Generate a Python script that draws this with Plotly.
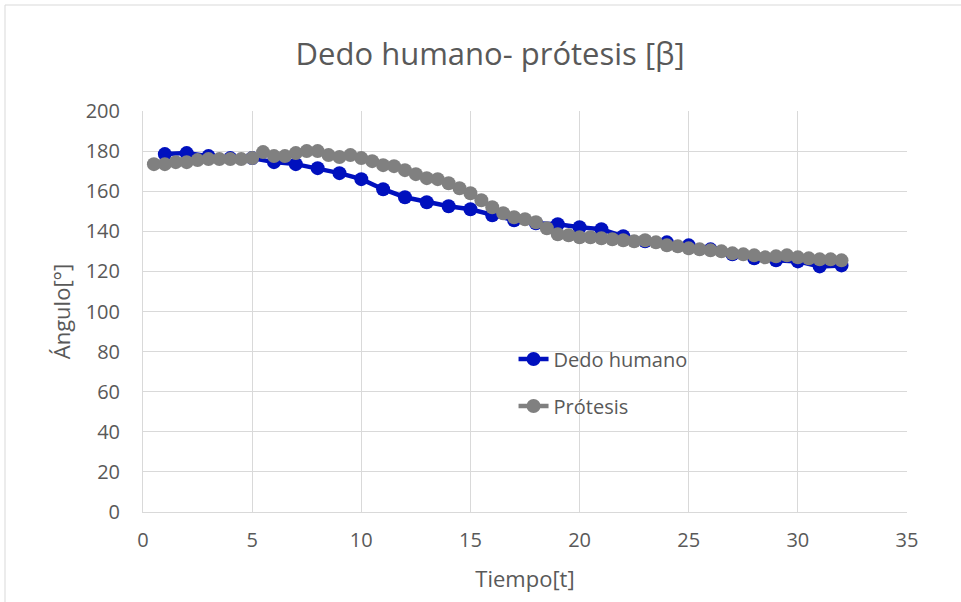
import plotly.graph_objects as go

# Time axis and angle readings for each finger
tiempo_humano = [float(t) for t in range(1, 33)]
angulo_humano = [
    178.5, 179, 177.5, 176.5, 176.5, 174.5, 173.5, 171.5, 169, 166,
    161, 157, 154.5, 152.5, 151, 148, 145.5, 144, 143.5, 142,
    141, 137.5, 135, 134.5, 133, 131, 128.5, 126.5, 125.5, 125,
    122.5, 123,
]

tiempo_protesis = [0.5 * k for k in range(1, 65)]
angulo_protesis = [
    173.5, 173.5, 174.5, 174.5, 175.5, 176, 176, 176, 176, 176.5,
    179.5, 177.5, 177.5, 179, 180, 180, 178, 177, 178, 176.5,
    175, 173, 172.5, 170.5, 168.5, 166.5, 166, 164, 161.5, 159,
    155.5, 152, 149, 147, 146, 144.5, 141.5, 138.5, 138, 137,
    137, 136.5, 136, 135.5, 135, 135.5, 134.5, 133, 132.5, 131.5,
    131, 130.5, 130, 129, 128.5, 128, 127, 127.5, 128, 127,
    126.5, 126, 126, 125.5,
]

x_ticks = [0, 5, 10, 15, 20, 25, 30, 35]
y_ticks = [0, 20, 40, 60, 80, 100, 120, 140, 160, 180, 200]

AZUL = "#0010BE"
GRIS = "#808080"
TEXTO = "#595959"
REJILLA = "#D9D9D9"
FUENTE = "Open Sans"

fig = go.Figure()
fig.add_trace(go.Scatter(
    x=tiempo_humano, y=angulo_humano, name="Dedo humano",
    mode="lines+markers", legendgroup="a",
    line=dict(color=AZUL, width=4.5),
    marker=dict(color=AZUL, size=14),
))
fig.add_trace(go.Scatter(
    x=tiempo_protesis, y=angulo_protesis, name="Prótesis",
    mode="lines+markers", legendgroup="b",
    line=dict(color=GRIS, width=4.5),
    marker=dict(color=GRIS, size=14),
))

fig.update_layout(
    width=961, height=602,
    margin=dict(l=143, r=54, t=111, b=90),
    paper_bgcolor="white", plot_bgcolor="white",
    font=dict(family=FUENTE, color=TEXTO, size=19),
    title=dict(
        text="Dedo humano- prótesis [β]",
        x=0.51, xanchor="center", y=0.91, yanchor="middle",
        font=dict(family=FUENTE, size=31, color=TEXTO),
    ),
    showlegend=True,
    legend=dict(
        x=0.485, y=0.43, xanchor="left", yanchor="top",
        bgcolor="rgba(0,0,0,0)", traceorder="grouped",
        tracegroupgap=18, font=dict(size=20, color=TEXTO),
    ),
    xaxis=dict(
        range=[0, 35], tickvals=x_ticks, showgrid=True,
        gridcolor=REJILLA, gridwidth=1, zeroline=False,
        showline=True, linecolor=REJILLA, mirror=False,
        ticks="outside", ticklen=10, tickcolor="rgba(0,0,0,0)",
        tickfont=dict(size=20), fixedrange=True,
        title=dict(text="Tiempo[t]", font=dict(size=22), standoff=19),
    ),
    yaxis=dict(
        range=[0, 200], tickvals=y_ticks, showgrid=True,
        gridcolor=REJILLA, gridwidth=1, zeroline=False,
        showline=True, linecolor=REJILLA,
        ticks="outside", ticklen=18, tickcolor="rgba(0,0,0,0)",
        tickfont=dict(size=20), fixedrange=True,
        title=dict(text="Ángulo[°]", font=dict(size=22), standoff=8),
    ),
    shapes=[dict(
        type="rect", xref="paper", yref="paper",
        x0=(5 - 143) / 764, x1=(963 - 143) / 764,
        y0=(512 - 606) / 401, y1=(512 - 5) / 401,
        line=dict(color=REJILLA, width=1), fillcolor="rgba(0,0,0,0)",
        layer="below",
    )],
)

fig.write_html("out.html")
